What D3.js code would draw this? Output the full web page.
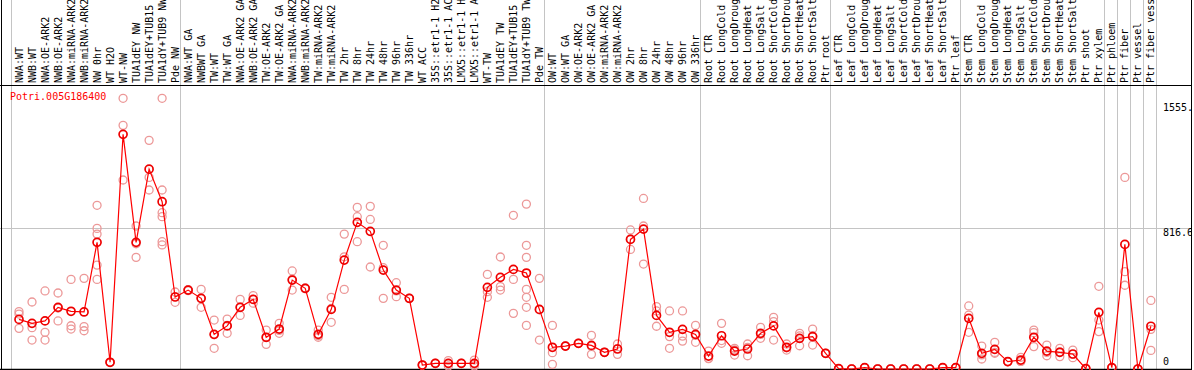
<!DOCTYPE html>
<html>
<head>
<meta charset="utf-8">
<script src="https://cdn.jsdelivr.net/npm/d3@7"></script>
<style>
html,body{margin:0;padding:0;background:#fff;}
svg{display:block;}
text{font-family:"DejaVu Sans Mono",monospace;font-size:10px;}
</style>
</head>
<body>
<svg id="chart" width="1194" height="370"></svg>
<script>
const geneName = "Potri.005G186400";

const categories = [
"NWA:WT","NWB:WT","NWA:OE-ARK2","NWB:OE-ARK2","NWA:miRNA-ARK2","NWB:miRNA-ARK2","NW 0hr","WT H2O","WT-NW","TUA1dEY NW","TUA1dEY+TUB15 NW","TUA1dY+TUB9 NW","Pde NW",
"NWA:WT GA","NWBWT GA","TW:WT","TW:WT GA","NWA:OE-ARK2 GA","NWB:OE-ARK2 GA","TW:OE-ARK2","TW:OE-ARK2 GA","NWA:miRNA-ARK2","NWB:miRNA-ARK2","TW:miRNA-ARK2","TW:miRNA-ARK2","TW 2hr","TW 8hr","TW 24hr","TW 48hr","TW 96hr","TW 336hr","WT ACC","35S::etr1-1 H2O","35S::etr1-1 ACC","LMX5::etr1-1 H2O","LMX5::etr1-1 ACC","WT-TW","TUA1dEY TW","TUA1dEY+TUB15 TW","TUA1dY+TUB9 TW","Pde TW",
"OW:WT","OW:WT GA","OW:OE-ARK2","OW:OE-ARK2 GA","OW:miRNA-ARK2","OW:miRNA-ARK2","OW 2hr","OW 8hr","OW 24hr","OW 48hr","OW 96hr","OW 336hr",
"Root CTR","Root LongCold","Root LongDrought","Root LongHeat","Root LongSalt","Root ShortCold","Root ShortDrought","Root ShortHeat","Root ShortSalt","Ptr root",
"Leaf CTR","Leaf LongCold","Leaf LongDrought","Leaf LongHeat","Leaf LongSalt","Leaf ShortCold","Leaf ShortDrought","Leaf ShortHeat","Leaf ShortSalt","Ptr leaf",
"Stem CTR","Stem LongCold","Stem LongDrought","Stem LongHeat","Stem LongSalt","Stem ShortCold","Stem ShortDrought","Stem ShortHeat","Stem ShortSalt","Ptr shoot","Ptr xylem",
"Ptr phloem","Ptr fiber","Ptr vessel","Ptr fiber vessel"
];

const groupSizes = [13, 28, 12, 10, 10, 11, 1, 1, 1, 1];

const meanValues = [
288,265,279,358,335,331,735,39,1362,735,1160,971,418,
458,410,201,250,358,404,184,232,516,468,201,346,632,851,799,574,458,410,23,33,33,33,33,474,532,578,557,346,
126,133,149,137,97,116,752,812,311,213,230,201,
75,193,104,116,207,250,126,178,188,91,
2,0,8,0,0,0,0,0,8,8,
294,91,114,43,52,184,104,97,87,2,329,
8,723,0,248
];

const replicateValues = [
[333,319,236],[389,240,168],[453,213,168],[441,279,354],[520,251,232],[526,246,222],[950,816,783,603,520],[39,39,39],[1571,1414,1097],[830,648,727],[1327,1112,1039],[1571,1039,907,884,739,720],[447,387,420],
[458,455,461],[462,358,410],[284,120,199],[290,207,253],[404,311,359],[426,404,382],[226,143,183],[265,207,224],[569,458,521],[468,470,466],[226,184,193],[416,271,351],[783,462,651],[938,884,739],[944,868,592],[718,588,410],[501,420,453],[410,410,410],[23,23,23],[33,33,33],[49,18,32],[33,33,33],[52,18,29],[549,416,449],[650,478,458],[892,520,323],[957,718,648,462,416,358,253],[526,168,344],
[253,95,27],[133,133,133],[149,149,149],[195,85,131],[97,97,97],[145,85,118],[807,694,755],[990,830,609],[362,337,248],[337,188,120],[337,191,162],[253,155,195],
[104,62,60],[265,149,165],[120,81,111],[145,77,126],[242,178,201],[300,275,168],[145,110,123],[207,135,192],[232,139,193],[91,91,91],
[2,2,2],[0,0,0],[8,8,8],[0,0,0],[0,0,0],[0,0,0],[0,0,0],[0,0,0],[8,8,8],[8,8,8],
[366,313,213],[133,58,82],[155,91,96],[43,43,43],[68,44,44],[226,211,130],[139,77,96],[120,72,99],[110,66,85],[2,2,2],[480,284,217],
[8,8,8],[1112,565,486],[0,0,0],[398,230,108]
];

const tickValues = [0, 816.6, 1555.3];
const tickLabels = ["0", "816.6", "1555.3"];

const W = 1194, H = 370;
const headerY = 85, bottomY = 369;
const plotLeft = 10.7, plotRight = 1155.6, frameRight = 1191;

const svg = d3.select("#chart");

const x = d3.scaleBand().domain(d3.range(categories.length)).range([plotLeft, plotRight]).paddingInner(0).paddingOuter(0);
const pointOffset = 8.3;
const px = i => x(i) + pointOffset;

const y = d3.scaleLinear().domain([0, 816.6]).range([bottomY, 228.3]);

svg.append("defs").append("clipPath").attr("id","frameClip")
  .append("rect").attr("x",0).attr("y",0).attr("width",frameRight).attr("height",H);

const root = svg.append("g").attr("clip-path","url(#frameClip)");

// group boundaries
const bounds = [0];
groupSizes.reduce((acc, s) => { acc += s; bounds.push(acc); return acc; }, 0);
root.append("g").selectAll("line").data(bounds).join("line")
  .attr("x1", d => Math.round(d === categories.length ? plotRight : x(d)) + 0.5)
  .attr("x2", d => Math.round(d === categories.length ? plotRight : x(d)) + 0.5)
  .attr("y1", 0).attr("y2", H)
  .attr("stroke", "#c4c4c4").attr("stroke-width", 1);

// horizontal grid at 816.6
root.append("line")
  .attr("x1", 0).attr("x2", frameRight)
  .attr("y1", Math.round(y(816.6)) + 0.5).attr("y2", Math.round(y(816.6)) + 0.5)
  .attr("stroke", "#c4c4c4").attr("stroke-width", 1);

// frame lines
root.append("line").attr("x1",1.5).attr("x2",1.5).attr("y1",0).attr("y2",H).attr("stroke","#000");
root.append("line").attr("x1",0).attr("x2",frameRight).attr("y1",headerY+0.5).attr("y2",headerY+0.5).attr("stroke","#000");
root.append("line").attr("x1",0).attr("x2",frameRight).attr("y1",bottomY+0.5).attr("y2",bottomY+0.5).attr("stroke","#000").attr("stroke-width",1.5);
svg.append("line").attr("x1",frameRight+0.5).attr("x2",frameRight+0.5).attr("y1",0).attr("y2",H).attr("stroke","#000");

// category labels
root.append("g").selectAll("text").data(categories).join("text")
  .attr("transform", (d,i) => `translate(${px(i)},83) rotate(-90)`)
  .attr("text-anchor","start")
  .attr("dominant-baseline","central")
  .attr("fill","#000")
  .text(d => d);

// gene name
root.append("text").attr("x", 10).attr("y", 100).attr("fill", "#ff0000").text(geneName);

// y tick labels
root.append("g").selectAll("text").data(tickValues).join("text")
  .attr("x", 1163)
  .attr("y", d => Math.min(Math.max(y(d), 104), 358))
  .attr("dominant-baseline","hanging")
  .attr("fill","#000")
  .text((d,i) => tickLabels[i]);

// replicate points
const reps = [];
replicateValues.forEach((arr, i) => arr.forEach(v => reps.push({i, v})));
root.append("g").selectAll("circle").data(reps).join("circle")
  .attr("cx", d => px(d.i)).attr("cy", d => y(d.v)).attr("r", 4)
  .attr("fill","none").attr("stroke","#ec9898").attr("stroke-width",1.3);

// mean line
const line = d3.line().x((d,i) => px(i)).y(d => y(d));
root.append("path").datum(meanValues).attr("d", line)
  .attr("fill","none").attr("stroke","#ff0000").attr("stroke-width",1.2);

// mean points
root.append("g").selectAll("circle").data(meanValues).join("circle")
  .attr("cx", (d,i) => px(i)).attr("cy", d => y(d)).attr("r", 4)
  .attr("fill","none").attr("stroke","#ee0000").attr("stroke-width",1.7);
</script>
</body>
</html>
